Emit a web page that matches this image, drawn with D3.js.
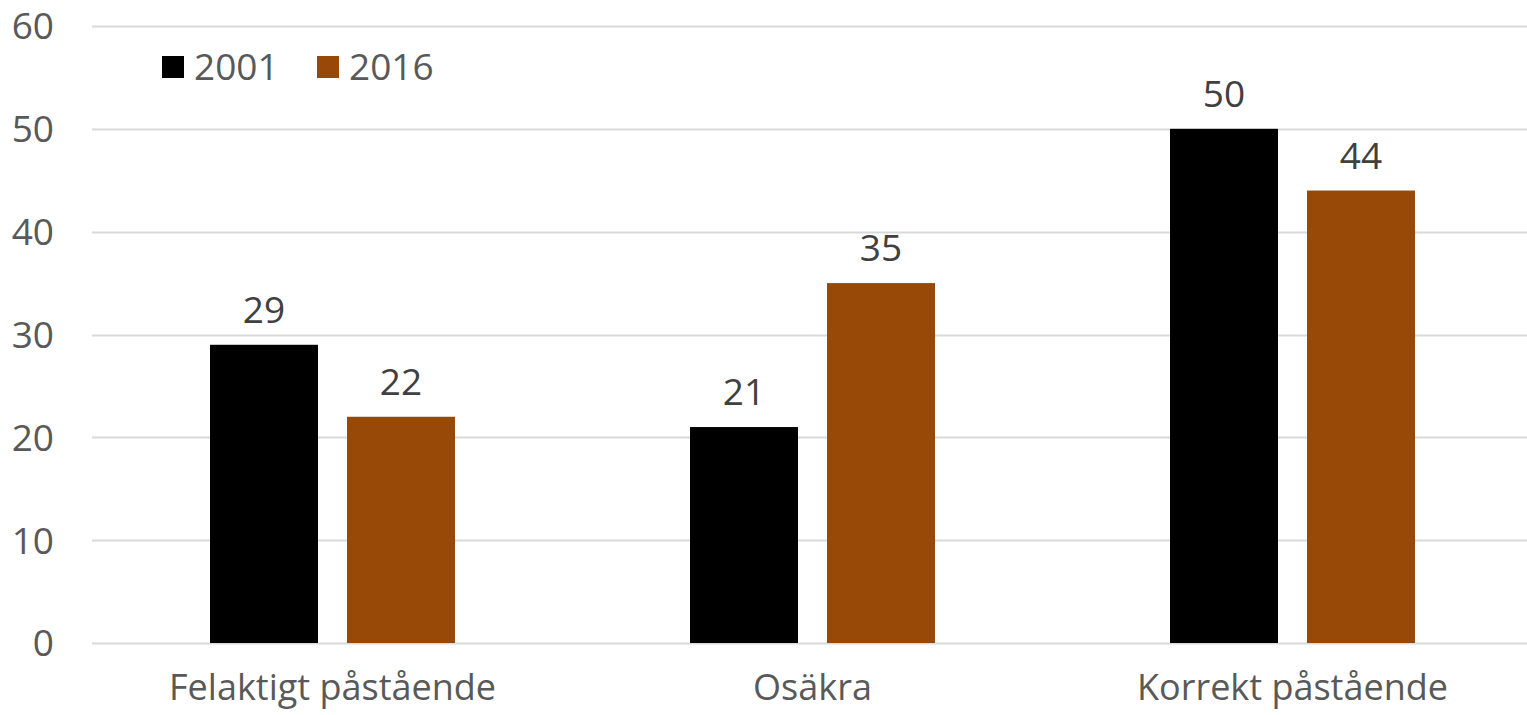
<!DOCTYPE html>
<html><head><meta charset="utf-8">
<script src="https://cdnjs.cloudflare.com/ajax/libs/d3/7.8.5/d3.min.js"></script>
<style>body{margin:0;background:#fff}svg{display:block}text{font-family:"Open Sans",sans-serif}</style>
</head><body>
<svg id="c" width="1527" height="715"></svg>
<script>
const categories = ["Felaktigt påstående", "Osäkra", "Korrekt påstående"];
const seriesNames = ["2001", "2016"];
const values2001 = [29, 21, 50];
const values2016 = [22, 35, 44];
const yTicks = [0, 10, 20, 30, 40, 50, 60];
const colors = ["#000000", "#984807"];

const svg = d3.select("#c");
const x0 = d3.scaleBand().domain(categories).range([92.5, 1532.5]).paddingInner(0).paddingOuter(0);
const y = d3.scaleLinear().domain([0, 60]).range([643, 26]);
const x1 = d3.scaleBand().domain(seriesNames).range([117.5, 480 - 117.5]).paddingInner(29 / 137).paddingOuter(0);

// gridlines
svg.append("g").selectAll("line").data(yTicks).join("line")
  .attr("x1", 92).attr("x2", 1527)
  .attr("y1", d => Math.round(y(d)) + 0.5).attr("y2", d => Math.round(y(d)) + 0.5)
  .attr("stroke", "#d9d9d9").attr("stroke-width", 2);

// y axis
const yAxis = d3.axisLeft(y).tickValues(yTicks).tickSize(0).tickPadding(0);
const gy = svg.append("g").attr("transform", "translate(54,0)").call(yAxis);
gy.select(".domain").remove();
gy.selectAll("text").attr("font-size", 37).attr("fill", "#595959").attr("dy", "0.35em").style("font-family", '"Open Sans",sans-serif');

const data = categories.map((c, i) => ({cat: c, vals: [values2001[i], values2016[i]]}));

const groups = svg.append("g").selectAll("g").data(data).join("g")
  .attr("transform", d => `translate(${x0(d.cat)},0)`);

groups.selectAll("rect").data(d => d.vals.map((v, j) => ({s: seriesNames[j], v, j}))).join("rect")
  .attr("x", d => x1(d.s)).attr("width", x1.bandwidth())
  .attr("y", d => y(d.v)).attr("height", d => y(0) - y(d.v))
  .attr("fill", d => colors[d.j]);

groups.selectAll("text.lbl").data(d => d.vals.map((v, j) => ({s: seriesNames[j], v, j}))).join("text")
  .attr("class", "lbl")
  .attr("x", d => x1(d.s) + x1.bandwidth() / 2).attr("y", d => y(d.v) - 22)
  .attr("text-anchor", "middle").attr("font-size", 37).attr("fill", "#404040")
  .text(d => d.v);

// x axis labels
const xAxis = d3.axisBottom(x0).tickSize(0).tickPadding(0);
const gx = svg.append("g").attr("transform", "translate(0,643)").call(xAxis);
gx.select(".domain").remove();
gx.selectAll("text").attr("font-size", 36).attr("fill", "#595959").attr("y", 57).attr("dy", 0).style("font-family", '"Open Sans",sans-serif');

// legend
const leg = svg.append("g");
const legX = [162, 317];
seriesNames.forEach((s, i) => {
  leg.append("rect").attr("x", legX[i]).attr("y", 56).attr("width", 22).attr("height", 22).attr("fill", colors[i]);
  leg.append("text").attr("x", legX[i] + 32).attr("y", 80).attr("font-size", 37).attr("fill", "#595959").text(s);
});
</script>
</body></html>
